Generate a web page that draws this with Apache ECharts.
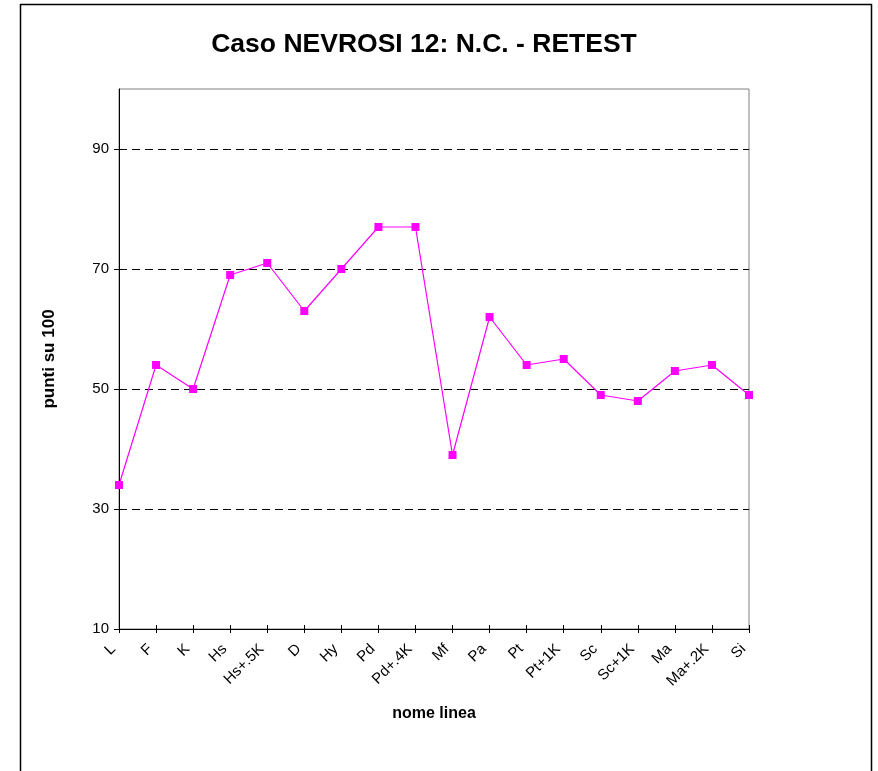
<!DOCTYPE html>
<html>
<head>
<meta charset="utf-8">
<script src="https://cdn.jsdelivr.net/npm/echarts@6/dist/echarts.min.js"></script>
<style>
html,body{margin:0;padding:0;background:#fff;}
#chart{width:878px;height:771px;}
</style>
</head>
<body>
<div id="chart"></div>
<script>
var categories = ['L','F','K','Hs','Hs+.5K','D','Hy','Pd','Pd+.4K','Mf','Pa','Pt','Pt+1K','Sc','Sc+1K','Ma','Ma+.2K','Si'];
var values = [34,54,50,69,71,63,70,77,77,39,62,54,55,49,48,53,54,49];
var yTicks = {min:10, max:100, interval:20};
var yTickValues = [10,30,50,70,90];
var titleText = 'Caso NEVROSI 12: N.C. - RETEST';
var xName = 'nome linea';
var yName = 'punti su 100';

var chart = echarts.init(document.getElementById('chart'), null, {renderer:'canvas'});
var font = 'Liberation Sans, Arial, sans-serif';
chart.setOption({
  animation:false,
  backgroundColor:'#fff',
  textStyle:{fontFamily:font},
  title:{
    text:titleText,
    left:419, top:26, textAlign:'center',
    textStyle:{fontFamily:font, fontSize:26.5, fontWeight:'bold', color:'#000'}
  },
  graphic:[{
    type:'rect', silent:true,
    shape:{x:20.5, y:4.5, width:851, height:800},
    style:{fill:null, stroke:'#000', lineWidth:1.5}
  }],
  grid:{left:119, right:129, top:89, bottom:142, show:true, borderColor:'#808080', borderWidth:1, backgroundColor:'transparent'},
  xAxis:[{
    type:'category', data:categories, boundaryGap:false,
    name:xName, nameLocation:'middle', nameGap:77,
    nameTextStyle:{fontFamily:font, fontSize:16, fontWeight:'bold', color:'#000'},
    axisLine:{lineStyle:{color:'#000', width:1}},
    axisTick:{show:true, interval:0, length:4, lineStyle:{color:'#000'}},
    axisLabel:{rotate:45, fontSize:15, color:'#000', fontFamily:font, interval:0, margin:12, padding:[0,8,0,0]},
    splitLine:{show:false}
  },{
    type:'category', data:categories, boundaryGap:false, position:'bottom',
    axisLine:{show:false},
    axisTick:{show:true, interval:0, inside:true, length:4, lineStyle:{color:'#000'}},
    axisLabel:{show:false},
    splitLine:{show:false}
  }],
  yAxis:[{
    type:'value', min:yTicks.min, max:yTicks.max, interval:yTicks.interval,
    name:yName, nameLocation:'middle', nameGap:61,
    nameTextStyle:{fontFamily:font, fontSize:17, fontWeight:'bold', color:'#000'},
    axisLine:{show:true, lineStyle:{color:'#000', width:1}},
    axisTick:{show:true, length:5, customValues:yTickValues, lineStyle:{color:'#000'}},
    axisLabel:{fontSize:15, color:'#000', fontFamily:font, margin:10, showMaxLabel:false},
    splitLine:{show:true, lineStyle:{color:'#000', type:[8,5], width:1}}
  },{
    type:'value', min:yTicks.min, max:yTicks.max, interval:yTicks.interval, position:'left',
    axisLine:{show:false},
    axisTick:{show:true, inside:true, length:4, customValues:yTickValues, lineStyle:{color:'#000'}},
    axisLabel:{show:false},
    splitLine:{show:false}
  }],
  series:[{
    type:'line', data:values, xAxisIndex:0, yAxisIndex:0,
    lineStyle:{color:'#FF00FF', width:1.2},
    itemStyle:{color:'#FF00FF'},
    symbol:'rect', symbolSize:8, showAllSymbol:true
  }]
});
</script>
</body>
</html>
